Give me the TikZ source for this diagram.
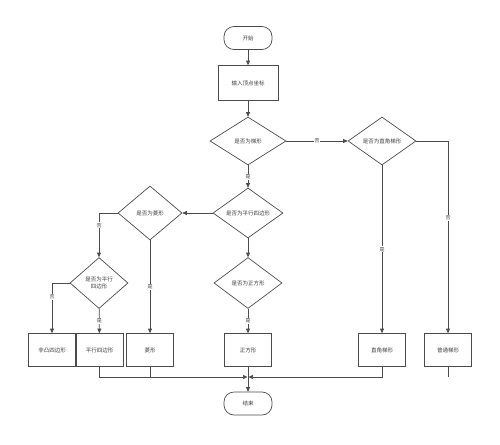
\documentclass[tikz,border=0pt]{standalone}
\usepackage{fontspec}
\newfontfamily\cjk{Noto Sans CJK SC}
\usetikzlibrary{shapes.geometric, arrows.meta}

\begin{document}
\begin{tikzpicture}[
    x=1pt, y=-1pt,
    every node/.style={font=\cjk\fontsize{5.5}{7}\selectfont, text=black!75},
    term/.style={draw=black!70, line width=0.7pt, rounded corners=10pt, minimum width=48pt, minimum height=23pt},
    proc/.style={draw=black!70, line width=0.7pt, minimum width=47pt, minimum height=33pt},
    decide/.style={draw=black!70, line width=0.7pt, diamond, inner sep=0pt, align=center},
    yn/.style={fill=white, inner sep=0.8pt, font=\cjk\fontsize{5}{6}\selectfont},
    line/.style={draw=black!70, line width=0.7pt},
    flow/.style={line, -{Triangle[length=4.5pt, width=4pt]}}
]
\fill[white] (0,0) rectangle (500,444);
\useasboundingbox (0,0) rectangle (500,444);

% Main column
\node[term] (start) at (248,38) {开始};
\node[proc, minimum width=60pt, minimum height=35pt] (input) at (248,83) {输入顶点坐标};
\node[decide, minimum width=76pt, minimum height=48pt] (trap) at (248,141) {是否为梯形};
\node[decide, minimum width=70pt, minimum height=50pt] (para) at (248,213) {是否为平行四边形};
\node[decide, minimum width=68pt, minimum height=51pt] (square) at (248,283) {是否为正方形};

% Right branch
\node[decide, minimum width=68pt, minimum height=48pt] (right) at (382,141) {是否为直角梯形};

% Left branch
\node[decide, minimum width=64pt, minimum height=54pt] (rhomb) at (150,213) {是否为菱形};
\node[decide, minimum width=58pt, minimum height=51pt] (para2) at (99,283) {是否为平行\\四边形};

% Results
\node[proc] (nonconv) at (52,350) {非凸四边形};
\node[proc] (parares) at (99.5,350) {平行四边形};
\node[proc] (rhombres) at (150,350) {菱形};
\node[proc] (sqres) at (248,350) {正方形};
\node[proc] (rtres) at (382,350) {直角梯形};
\node[proc] (normres) at (448,350) {普通梯形};
\node[term] (stop) at (248,403.5) {结束};

\coordinate (jl) at (247.5,377);
\coordinate (jr) at (248.5,377);

\draw[flow] (start) -- (input);
\draw[flow] (input) -- (trap);
\draw[flow] (trap) -- node[yn]{否} (right);
\draw[flow] (trap) -- node[yn]{是} (para);
\draw[flow] (right) -- node[yn]{是} (rtres);
\draw[flow] (right.east) -| node[yn, pos=0.7]{否} (normres);
\draw[flow] (para) -- (rhomb);
\draw[flow] (para) -- (square);
\draw[flow] (rhomb.west) -| node[yn, pos=0.64]{否} (para2);
\draw[flow] (rhomb) -- node[yn]{是} (rhombres);
\draw[flow] (para2.west) -| node[yn, pos=0.64]{否} (nonconv);
\draw[flow] (para2) -- node[yn]{是} (parares);
\draw[flow] (square) -- node[yn]{是} (sqres);
\draw[flow] (sqres) -- (stop);

% Merge to end
\draw[flow] (parares) |- (jl);
\draw[line] (rhombres) -- (rhombres |- jl);
\draw[flow] (rtres) |- (jr);
\draw[line] (normres) -- (normres |- jr);
\end{tikzpicture}
\end{document}
